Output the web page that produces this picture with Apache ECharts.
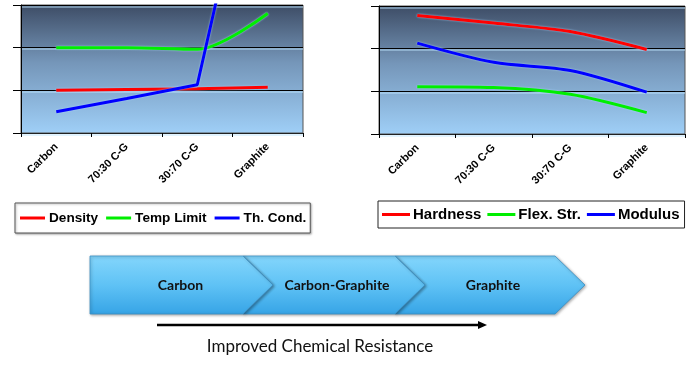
<!DOCTYPE html>
<html>
<head>
<meta charset="utf-8">
<script src="https://cdn.jsdelivr.net/npm/echarts@6/dist/echarts.min.js"></script>
<style>
html,body{margin:0;padding:0;background:#fff;}
#chart{width:700px;height:367px;}
</style>
</head>
<body>
<div id="chart"></div>
<script>
const categories = ['Carbon', '70:30 C-G', '30:70 C-G', 'Graphite'];
const density = [1.0, 1.02, 1.04, 1.07];
const tempLimit = [2.0, 2.0, 1.96, 2.8];
const thCond = [0.5, 0.81, 1.13, 8.4];
const hardness = [2.78, 2.6, 2.4, 1.98];
const flexStr = [1.11, 1.09, 0.93, 0.5];
const modulus = [2.13, 1.68, 1.49, 0.98];
const stages = ['Carbon', 'Carbon-Graphite', 'Graphite'];
const resistanceLabel = 'Improved Chemical Resistance';

const chart = echarts.init(document.getElementById('chart'), null, {renderer: 'canvas'});

function bg() {
  return new echarts.graphic.LinearGradient(0, 0, 0, 1, [
    {offset: 0, color: '#3d4c65'},
    {offset: 0.45, color: '#7596b9'},
    {offset: 1, color: '#9fcff7'}
  ]);
}
function xAx(gi) {
  return {
    type: 'category', gridIndex: gi, data: categories, boundaryGap: true,
    axisLine: {lineStyle: {color: '#222', width: 1}},
    axisTick: {show: true, length: 4, lineStyle: {color: '#000'}},
    axisLabel: {interval: 0, rotate: 45, margin: 12, color: '#000',
      fontFamily: 'Liberation Sans, Arial', fontWeight: 'bold', fontSize: 11}
  };
}
function yAx(gi) {
  return {
    type: 'value', gridIndex: gi, min: 0, max: 3, interval: 1,
    axisLine: {show: true, lineStyle: {color: '#000', width: 1}},
    axisTick: {show: true, length: 8, lineStyle: {color: '#000'}},
    axisLabel: {show: false},
    splitLine: {show: true, lineStyle: {color: '#000', width: 1,
      shadowColor: 'rgba(190,230,255,0.9)', shadowOffsetY: 1.5, shadowBlur: 0.5}}
  };
}
function ln(name, data, color, xi, smooth) {
  return {
    name: name, type: 'line', data: data, xAxisIndex: xi, yAxisIndex: xi,
    smooth: smooth, showSymbol: false, symbol: 'none', clip: true,
    lineStyle: {color: color, width: 3, shadowColor: 'rgba(170,215,255,0.9)', shadowBlur: 2},
    itemStyle: {color: color}
  };
}

const chevH = 58, chevTop = 256, tip = 30;
const chevX = [[90, 243], [243, 395], [395, 555]];
const graphics = [];
chevX.forEach(function (c, i) {
  const x0 = c[0], x1 = c[1];
  const mid = chevTop + chevH / 2;
  const pts = i === 0
    ? [[x0, chevTop], [x1, chevTop], [x1 + tip, mid], [x1, chevTop + chevH], [x0, chevTop + chevH]]
    : [[x0, chevTop], [x1, chevTop], [x1 + tip, mid], [x1, chevTop + chevH], [x0, chevTop + chevH], [x0 + tip, mid]];
  graphics.push({
    type: 'polygon', z: 10 - i,
    shape: {points: pts},
    style: {
      fill: new echarts.graphic.LinearGradient(0, 0, 0, 1, [
        {offset: 0, color: '#84d6fc'}, {offset: 0.5, color: '#5fc2f5'}, {offset: 1, color: '#36a4e6'}
      ]),
      stroke: '#3b8fc4', lineWidth: 0.8,
      shadowColor: 'rgba(0,0,0,0.35)', shadowBlur: 3, shadowOffsetX: 1, shadowOffsetY: 1
    }
  });
  const cx = i === 0 ? (x0 + x1 + tip) / 2 - 1 : (x0 + x1 + tip) / 2 + 3;
  graphics.push({
    type: 'text', z: 20, x: cx, y: mid,
    style: {text: stages[i], fill: '#111', font: 'bold 14px Lato, "Open Sans", sans-serif',
      align: 'center', verticalAlign: 'middle'}
  });
});
graphics.push({
  type: 'line', z: 20, shape: {x1: 157, y1: 325, x2: 479, y2: 325},
  style: {stroke: '#000', lineWidth: 2.5}
});
graphics.push({
  type: 'polygon', z: 20, shape: {points: [[478, 321], [487, 325], [478, 329]]},
  style: {fill: '#000'}
});
graphics.push({
  type: 'text', z: 20, x: 320, y: 347,
  style: {text: resistanceLabel, fill: '#111', font: '17px Lato, "Open Sans", sans-serif',
    align: 'center', verticalAlign: 'middle'}
});

const option = {
  animation: false,
  backgroundColor: '#fff',
  grid: [
    {left: 21, top: 5, width: 282, height: 128, show: true, backgroundColor: bg(), borderColor: '#555', borderWidth: 1},
    {left: 379, top: 6, width: 306, height: 128, show: true, backgroundColor: bg(), borderColor: '#555', borderWidth: 1}
  ],
  xAxis: [xAx(0), xAx(1)],
  yAxis: [yAx(0), yAx(1)],
  legend: [
    {
      data: ['Density', 'Temp Limit', 'Th. Cond.'], left: 15, top: 203,
      orient: 'horizontal', icon: 'rect', itemWidth: 25, itemHeight: 3, itemGap: 8,
      padding: [8, 4, 8, 5], borderColor: '#555', borderWidth: 1,
      shadowColor: 'rgba(0,0,0,0.3)', shadowBlur: 2, shadowOffsetX: 1, shadowOffsetY: 1,
      backgroundColor: '#fff',
      textStyle: {color: '#000', fontFamily: 'Liberation Sans, Arial', fontWeight: 'bold', fontSize: 13.6, padding: [0, 0, 0, -1]}
    },
    {
      data: ['Hardness', 'Flex. Str.', 'Modulus'], left: 378, top: 201,
      orient: 'horizontal', icon: 'rect', itemWidth: 28, itemHeight: 3, itemGap: 6,
      padding: [6, 5, 6, 4], borderColor: '#222', borderWidth: 1,
      backgroundColor: '#fff',
      textStyle: {color: '#000', fontFamily: 'Liberation Sans, Arial', fontWeight: 'bold', fontSize: 15, padding: [0, 0, 0, -2]}
    }
  ],
  series: [
    ln('Density', density, '#ff0000', 0, false),
    ln('Temp Limit', tempLimit, '#00ee00', 0, 0.3),
    ln('Th. Cond.', thCond, '#0000ff', 0, false),
    ln('Hardness', hardness, '#ff0000', 1, 0.3),
    ln('Flex. Str.', flexStr, '#00ee00', 1, 0.3),
    ln('Modulus', modulus, '#0000ff', 1, 0.3)
  ],
  graphic: graphics
};
chart.setOption(option);
</script>
</body>
</html>
